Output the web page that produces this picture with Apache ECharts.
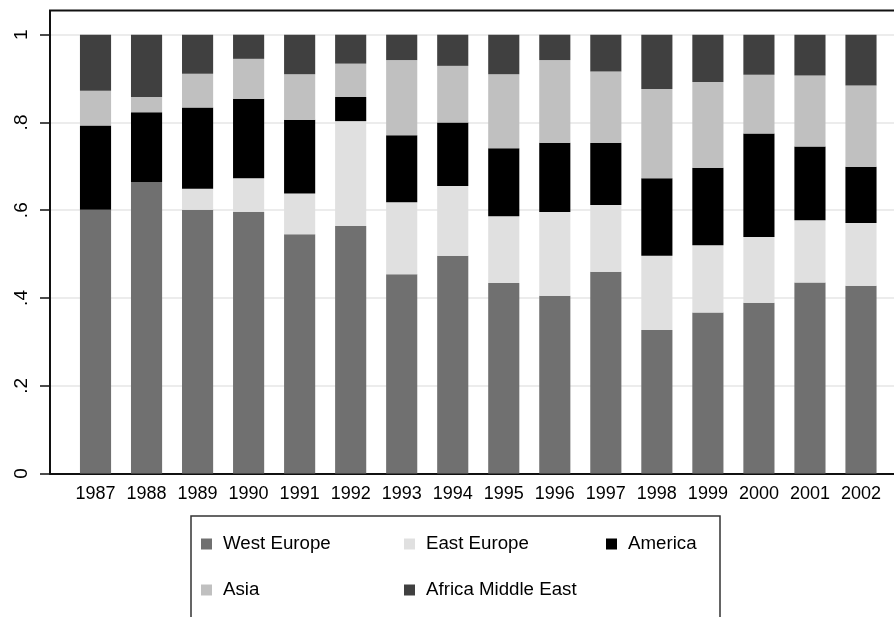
<!DOCTYPE html>
<html><head><meta charset="utf-8">
<script src="https://cdn.jsdelivr.net/npm/echarts@6/dist/echarts.min.js"></script>
<style>html,body{margin:0;padding:0;background:#fff}#c{width:894px;height:617px}</style>
</head><body><div id="c"></div>
<script>
const years = ['1987','1988','1989','1990','1991','1992','1993','1994','1995','1996','1997','1998','1999','2000','2001','2002'];
const westEurope = [0.601,0.664,0.601,0.596,0.545,0.564,0.454,0.496,0.434,0.405,0.460,0.327,0.367,0.389,0.435,0.428];
const eastEurope = [0.000,0.000,0.048,0.077,0.093,0.239,0.164,0.159,0.152,0.191,0.152,0.169,0.153,0.150,0.142,0.143];
const america = [0.192,0.159,0.185,0.181,0.168,0.055,0.153,0.145,0.155,0.158,0.141,0.177,0.177,0.236,0.168,0.128];
const asia = [0.079,0.035,0.077,0.091,0.104,0.076,0.171,0.129,0.169,0.188,0.163,0.203,0.195,0.134,0.162,0.185];
const africaMiddleEast = [0.128,0.142,0.090,0.055,0.090,0.067,0.058,0.071,0.090,0.059,0.084,0.124,0.108,0.091,0.093,0.116];
const yTickValues = [0, 0.2, 0.4, 0.6, 0.8, 1];
const yTickLabels = ['0', '.2', '.4', '.6', '.8', '1'];

const seriesDefs = [
  {name: 'West Europe', data: westEurope, color: '#707070'},
  {name: 'East Europe', data: eastEurope, color: '#e0e0e0'},
  {name: 'America', data: america, color: '#000000'},
  {name: 'Asia', data: asia, color: '#c0c0c0'},
  {name: 'Africa Middle East', data: africaMiddleEast, color: '#404040'}
];
const FONT = '"Liberation Sans", Arial, Helvetica, sans-serif';
const legendPos = [
  {left: 201, top: 533}, {left: 404, top: 533}, {left: 606, top: 533},
  {left: 201, top: 579}, {left: 404, top: 579}
];

const chart = echarts.init(document.getElementById('c'), null, {renderer: 'canvas'});
const option = {
  animation: false,
  backgroundColor: '#fff',
  textStyle: {fontFamily: FONT},
  grid: [
    {left: 50, right: 0, top: 34.7, bottom: 143.5},
    {left: 70, right: 7.5, top: 34.7, bottom: 143.5}
  ],
  xAxis: [
    {gridIndex: 0, type: 'value', min: 0, max: 1, axisLine: {show: true, onZero: false, lineStyle: {color: '#111', width: 2}},
     axisTick: {show: false}, axisLabel: {show: false}, splitLine: {show: false}},
    {gridIndex: 1, type: 'category', data: years, axisLine: {show: false}, axisTick: {show: false},
     axisLabel: {color: '#000', fontSize: 18, fontFamily: FONT, margin: 12, interval: 0}}
  ],
  yAxis: [
    {gridIndex: 0, type: 'value', min: 0, max: 1, interval: 0.2,
     axisLine: {show: true, lineStyle: {color: '#111', width: 2}},
     axisTick: {show: true, length: 10, lineStyle: {color: '#111', width: 1.5}},
     axisLabel: {rotate: 90, color: '#000', fontSize: 19, fontFamily: FONT, margin: 19,
       formatter: function (v) { const i = yTickValues.findIndex(t => Math.abs(t - v) < 1e-6); return i >= 0 ? yTickLabels[i] : ''; }},
     splitLine: {show: true, lineStyle: {color: '#e6e6e6', width: 1.5}}},
    {gridIndex: 1, type: 'value', min: 0, max: 1, show: false}
  ],
  legend: seriesDefs.map((s, i) => ({
    data: [s.name], left: legendPos[i].left, top: legendPos[i].top, padding: 0,
    icon: 'rect', itemWidth: 11, itemHeight: 11, selectedMode: false,
    textStyle: {fontSize: 18.7, color: '#000', fontFamily: FONT, lineHeight: 22, padding: [0, 0, 0, 6]}
  })),
  graphic: [
    {type: 'polyline', shape: {points: [[50, 473.5], [50, 10.5], [894, 10.5]]}, style: {stroke: '#111', lineWidth: 2, fill: null}, z: 10},
    {type: 'rect', shape: {x: 191, y: 516, width: 529, height: 130}, style: {stroke: '#333', lineWidth: 1.5, fill: null}, z: 10}
  ],
  series: seriesDefs.map(s => ({
    name: s.name, type: 'bar', stack: 'total', xAxisIndex: 1, yAxisIndex: 1,
    data: s.data, barWidth: '61%', itemStyle: {color: s.color}
  }))
};
chart.setOption(option);
</script>
</body></html>
